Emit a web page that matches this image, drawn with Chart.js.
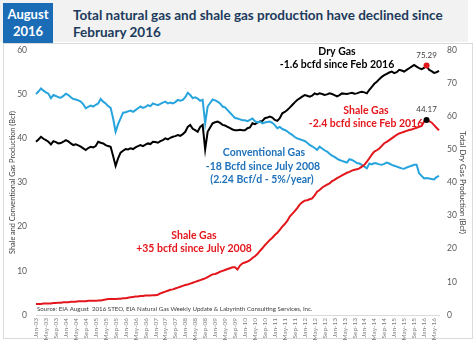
<!DOCTYPE html>
<html>
<head>
<meta charset="utf-8">
<script src="https://cdn.jsdelivr.net/npm/chart.js@4.4.1/dist/chart.umd.min.js"></script>
<style>
  body { margin: 0; background: #fff; font-family: Lato, "Liberation Sans", sans-serif; }
  #wrap { position: relative; width: 474px; height: 345px; overflow: hidden; }
  #band { position: absolute; left: 0; top: 0; width: 468px; height: 42px; background: #f2f2f2; }
  #badge { position: absolute; left: 3px; top: 3px; width: 50px; height: 40px; background: #1b6cb6; color: #fff;
           font-weight: bold; font-size: 13px; line-height: 17px; text-align: center; padding-top: 2.5px; box-sizing: border-box; }
  #title { position: absolute; left: 73px; top: 6.5px; color: #203a5c; font-weight: bold; font-size: 13.5px; line-height: 17px; white-space: nowrap; }
  #frame { position: absolute; left: 3px; top: 43px; width: 470px; height: 296px; border: 1px solid #dadada; box-sizing: border-box; }
  canvas { position: absolute; left: 0; top: 0; }
</style>
</head>
<body>
<div id="wrap">
  <div id="band"></div>
  <div id="badge">August<br>2016</div>
  <div id="title">Total natural gas and shale gas production have declined since<br>February 2016</div>
  <div id="frame"></div>
  <canvas id="myChart" width="474" height="345"></canvas>
</div>
<script>
'use strict';

// monthly, Jan 2003 .. Jul 2016
const monthNames = ['Jan', 'Feb', 'Mar', 'Apr', 'May', 'Jun', 'Jul', 'Aug', 'Sep', 'Oct', 'Nov', 'Dec'];
const firstYear = 2003;
const monthCount = 163;

// shale gas, left axis (Bcf/d)
const shaleGas = [
  2.5, 2.5, 2.5, 2.6, 2.6, 2.6, 2.6, 2.7, 2.7, 2.8, 2.8, 2.9,
  2.9, 2.9, 3.0, 3.0, 3.0, 3.1, 3.1, 3.1, 3.1, 3.2, 3.2, 3.2,
  3.2, 3.3, 3.3, 3.4, 3.5, 3.6, 3.6, 3.6, 3.6, 3.7, 3.7, 3.8,
  3.8, 3.9, 4.0, 4.1, 4.2, 4.2, 4.3, 4.3, 4.4, 4.4, 4.4, 4.5,
  4.5, 4.6, 4.9, 5.1, 5.3, 5.5, 5.7, 5.8, 6.0, 6.2, 6.4, 6.6,
  6.8, 6.9, 7.1, 7.3, 7.5, 7.7, 7.9, 8.1, 8.3, 8.6, 8.9, 9.2,
  9.3, 9.5, 9.8, 10.0, 10.2, 10.4, 10.6, 10.8, 10.8, 10.3, 11.2, 11.7,
  11.9, 12.1, 12.4, 12.9, 13.3, 13.8, 14.5, 15.1, 15.8, 16.4, 17.0, 17.5,
  18.1, 18.6, 19.3, 20.0, 20.6, 21.3, 22.3, 22.9, 23.5, 24.2, 25.0, 25.5,
  25.9, 26.0, 26.2, 26.4, 27.1, 27.9, 28.3, 28.8, 29.2, 29.5, 29.8, 30.3,
  30.6, 31.0, 31.3, 31.6, 31.9, 32.2, 32.4, 32.7, 32.9, 33.0, 33.2, 33.6,
  34.0, 34.7, 35.5, 36.3, 37.0, 37.3, 37.7, 38.3, 38.9, 39.2, 39.6, 40.0,
  40.4, 40.8, 41.1, 41.3, 41.5, 41.7, 41.9, 42.0, 42.2, 42.4, 42.6, 42.8,
  43.8, 44.17, 43.9, 43.6, 43.0, 42.4, 41.8
];

// conventional gas, left axis
const conventionalGas = [
  50.0, 50.6, 51.3, 50.8, 50.4, 50.1, 49.1, 49.8, 49.6, 49.3, 49.2, 49.6,
  50.1, 49.8, 49.3, 48.9, 48.8, 48.6, 48.3, 47.7, 46.8, 47.1, 47.4, 47.2,
  47.6, 47.9, 48.9, 48.3, 47.9, 47.3, 46.9, 44.5, 41.5, 43.2, 44.5, 45.8,
  45.9, 46.1, 46.3, 46.0, 46.4, 46.8, 47.2, 46.9, 47.1, 47.5, 47.3, 47.9,
  47.7, 47.5, 47.8, 48.1, 48.3, 47.9, 48.1, 47.9, 48.2, 48.7, 48.5, 48.7,
  49.3, 50.3, 49.8, 49.1, 49.3, 49.0, 48.5, 48.7, 43.4, 47.2, 48.0, 48.8,
  48.6, 48.3, 47.9, 47.2, 47.0, 46.4, 45.8, 45.2, 44.6, 44.5, 44.3, 44.1,
  44.1, 43.9, 44.2, 44.5, 43.9, 43.6, 43.8, 43.4, 43.6, 43.7, 43.8, 43.5,
  43.0, 42.3, 42.6, 42.1, 41.9, 41.6, 41.1, 40.8, 40.3, 40.0, 39.8, 39.6,
  39.4, 39.0, 38.5, 38.2, 37.8, 37.4, 38.1, 37.7, 37.3, 37.0, 36.5, 36.1,
  35.8, 35.4, 35.1, 34.9, 34.7, 34.5, 35.3, 35.1, 34.8, 34.4, 34.3, 34.0,
  33.6, 33.2, 34.3, 34.1, 34.4, 34.3, 34.1, 34.0, 34.2, 34.5, 34.3, 34.0,
  33.8, 33.6, 33.4, 33.2, 33.1, 33.4, 33.6, 33.8, 34.0, 34.0, 32.1, 31.5,
  30.9, 31.0, 30.9, 30.8, 30.7, 31.2, 31.5
];

// total dry gas, right axis
const dryGas = [
  52.3, 53.0, 53.8, 53.2, 52.8, 52.3, 51.5, 52.5, 52.2, 51.8, 51.9, 52.3,
  52.8, 52.4, 51.8, 51.3, 51.5, 51.2, 50.8, 50.3, 49.8, 50.4, 50.8, 50.6,
  51.0, 52.3, 52.0, 51.8, 51.3, 51.0, 50.8, 48.0, 45.0, 47.3, 49.0, 49.6,
  50.1, 50.0, 50.3, 50.1, 50.6, 51.0, 51.3, 51.0, 51.4, 51.8, 51.6, 52.3,
  52.2, 52.0, 52.5, 52.8, 53.3, 53.0, 53.5, 53.8, 54.0, 54.3, 54.1, 54.6,
  55.3, 56.8, 57.4, 56.2, 55.8, 55.3, 56.8, 57.4, 50.0, 55.3, 56.6, 57.9,
  58.2, 58.4, 58.0, 57.4, 57.2, 56.8, 56.4, 56.0, 55.8, 55.8, 55.9, 55.8,
  55.8, 56.4, 56.6, 57.9, 57.6, 58.1, 58.4, 58.6, 59.4, 59.6, 59.9, 59.6,
  58.9, 58.6, 59.4, 60.9, 61.3, 61.9, 62.6, 63.4, 64.2, 64.9, 65.4, 65.9,
  66.4, 66.2, 65.9, 66.2, 66.9, 66.6, 66.9, 66.7, 66.4, 66.6, 66.9, 66.7,
  66.4, 66.0, 66.4, 66.9, 66.8, 66.7, 66.9, 67.1, 66.8, 66.9, 67.2, 67.4,
  67.2, 66.9, 68.0, 68.9, 69.8, 70.4, 71.2, 71.9, 72.4, 72.8, 73.2, 73.5,
  73.0, 73.3, 74.0, 73.8, 73.5, 74.0, 74.5, 75.0, 75.5, 75.0, 74.5, 74.2,
  74.6, 75.29, 74.0, 73.6, 73.1, 73.3, 73.7
];

const leftTicks = [0, 10, 20, 30, 40, 50, 60];
const rightTicks = [0, 10, 20, 30, 40, 50, 60, 70, 80];
const peakIndex = 157; // Feb-16

const monthLabels = [];
for (let i = 0; i < monthCount; i++) {
  const yy = String((firstYear + Math.floor(i / 12)) % 100).padStart(2, '0');
  monthLabels.push(monthNames[i % 12] + '-' + yy);
}

const FONT = 'Lato, "Liberation Sans", sans-serif';
const RED = '#e3161c';
const BLUE = '#27a4dd';
const NOTE_BLUE = '#1f72bb';

// font size that makes a string about `width` px long
const measurer = document.createElement('canvas').getContext('2d');
function fitSize(text, width, bold) {
  measurer.font = (bold ? 'bold ' : '') + '10px ' + FONT;
  return 10 * width / measurer.measureText(text).width;
}

const leftTitle = 'Shale and Conventional Gas Production (Bcf)';
const rightTitle = 'Total Dry Gas Production (Bcf)';
const sourceText = 'Source: EIA August  2016 STEO, EIA Natural Gas Weekly Update & Labyrinth Consulting Services, Inc.';

const notes = {
  id: 'notes',
  afterDatasetsDraw(chart) {
    const ctx = chart.ctx;
    const xs = chart.scales.x;
    const yl = chart.scales.yLeft;
    const yr = chart.scales.yRight;
    ctx.save();
    ctx.textAlign = 'center';
    ctx.textBaseline = 'middle';

    function txt(s, x, y, color, size, bold) {
      ctx.font = (bold ? 'bold ' : '') + size + 'px ' + FONT;
      ctx.fillStyle = color;
      ctx.fillText(s, x, y);
    }

    txt('Dry Gas', 337, 52, '#000', 10.5, true);
    txt('-1.6 bcfd since Feb 2016', 337, 65, '#000', 10.5, true);
    txt('Shale Gas', 366, 111, RED, 10.5, true);
    txt('-2.4 bcfd since Feb 2016', 366, 124, RED, 10.5, true);
    txt('Conventional Gas', 264, 153, NOTE_BLUE, 10.5, true);
    txt('-18 Bcfd since July 2008', 263, 167, NOTE_BLUE, 10.5, true);
    txt('(2.24 Bcf/d - 5%/year)', 262, 180, NOTE_BLUE, 10.5, true);
    txt('Shale Gas', 194, 236, RED, 10.5, true);
    txt('+35 bcfd since July 2008', 194, 249, RED, 10.5, true);

    // peak values over the Feb-16 markers
    const px = xs.getPixelForValue(peakIndex);
    txt(dryGas[peakIndex].toFixed(2), px, yr.getPixelForValue(dryGas[peakIndex]) - 10, '#404040', 8, false);
    txt(shaleGas[peakIndex].toFixed(2), px, yl.getPixelForValue(shaleGas[peakIndex]) - 10, '#404040', 8, false);

    ctx.textAlign = 'left';
    txt(sourceText, 37, 309, '#404040', fitSize(sourceText, 276, false).toFixed(2), false);
    ctx.restore();
  }
};

function markerSize(ctx) {
  return ctx.dataIndex === peakIndex ? 3 : 0;
}

const ctx = document.getElementById('myChart').getContext('2d');
new Chart(ctx, {
  type: 'line',
  data: {
    labels: monthLabels,
    datasets: [
      {
        label: 'Shale Gas',
        data: shaleGas,
        yAxisID: 'yLeft',
        borderColor: RED,
        borderWidth: 2,
        pointRadius: markerSize,
        pointBackgroundColor: '#000',
        pointBorderColor: '#000',
        pointBorderWidth: 0,
        tension: 0
      },
      {
        label: 'Conventional Gas',
        data: conventionalGas,
        yAxisID: 'yLeft',
        borderColor: BLUE,
        borderWidth: 2,
        pointRadius: 0,
        tension: 0
      },
      {
        label: 'Dry Gas',
        data: dryGas,
        yAxisID: 'yRight',
        borderColor: '#000',
        borderWidth: 2,
        pointRadius: markerSize,
        pointBackgroundColor: RED,
        pointBorderColor: RED,
        pointBorderWidth: 0,
        tension: 0
      }
    ]
  },
  options: {
    responsive: false,
    animation: false,
    layout: { padding: { top: 50, left: 0, right: 0, bottom: 0 } },
    plugins: {
      legend: { display: false },
      tooltip: { enabled: false },
      title: { display: false }
    },
    scales: {
      x: {
        type: 'category',
        offset: false,
        grid: { display: false, drawTicks: false },
        border: { display: true, color: '#d9d9d9', width: 1 },
        afterFit(scale) { scale.height = 30; },
        ticks: {
          autoSkip: false,
          maxRotation: 90,
          minRotation: 90,
          padding: 3,
          color: '#7f7f7f',
          font: { family: FONT, size: 6.5 },
          callback(value, index) { return index % 4 === 0 ? monthLabels[index] : ''; }
        }
      },
      yLeft: {
        position: 'left',
        min: leftTicks[0],
        max: leftTicks[leftTicks.length - 1],
        grid: { display: false, drawTicks: false },
        border: { display: false },
        afterFit(scale) { scale.width = 36; },
        afterBuildTicks(scale) { scale.ticks = leftTicks.map(v => ({ value: v })); },
        ticks: { padding: 9, color: '#595959', font: { family: FONT, size: 8.5 } },
        title: {
          display: true,
          text: leftTitle,
          color: '#404040',
          font: { family: FONT, size: fitSize(leftTitle, 143, false) },
          padding: { top: 8, bottom: 0 }
        }
      },
      yRight: {
        position: 'right',
        min: rightTicks[0],
        max: rightTicks[rightTicks.length - 1],
        grid: { display: false, drawTicks: false },
        border: { display: false },
        afterFit(scale) { scale.width = 35; },
        afterBuildTicks(scale) { scale.ticks = rightTicks.map(v => ({ value: v })); },
        ticks: { padding: 8, color: '#595959', font: { family: FONT, size: 8.5 } },
        title: {
          display: true,
          text: rightTitle,
          color: '#404040',
          font: { family: FONT, size: fitSize(rightTitle, 103, false) },
          padding: { top: 7, bottom: 0 }
        }
      }
    }
  },
  plugins: [notes]
});
</script>
</body>
</html>
